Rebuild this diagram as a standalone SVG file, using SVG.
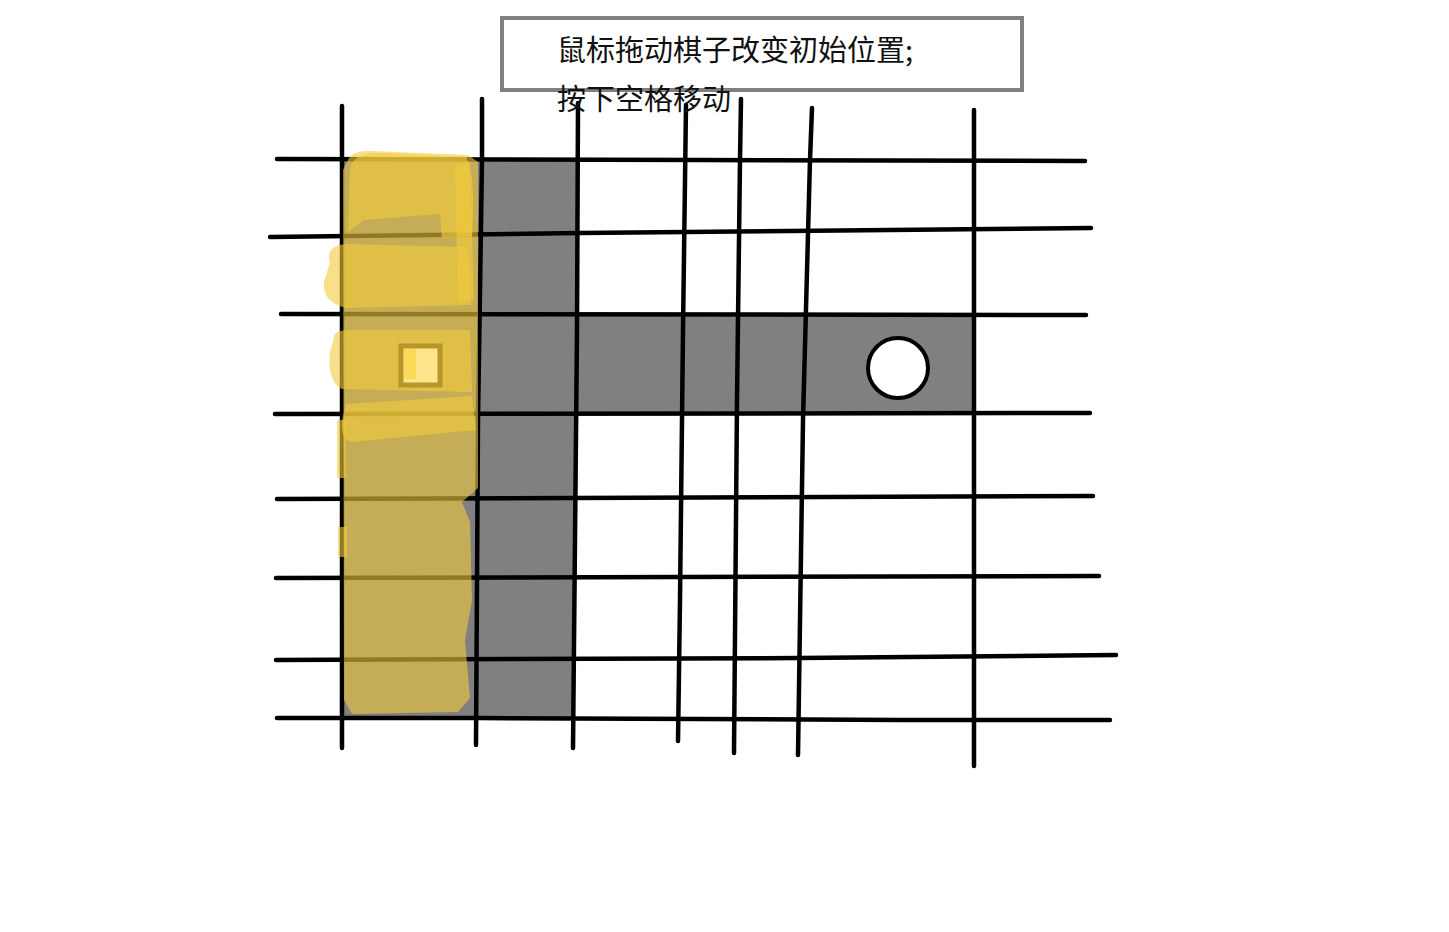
<svg xmlns="http://www.w3.org/2000/svg" width="1449" height="932" viewBox="0 0 1449 932">
<style>
.ln{fill:none;stroke:#000;stroke-width:4.5;stroke-linecap:round;stroke-linejoin:round}
.gray{fill:#808080}
.yl{fill:#f2cc3a;fill-opacity:0.6;stroke:none}
.txt{font-family:"Noto Sans CJK SC","Noto Sans",sans-serif;font-size:29px;fill:#111}
</style>
<rect width="1449" height="932" fill="#fff"/>
<g id="shaded">
<polygon class="gray" points="343,160 578,160 575,414 574,718 343,718"/>
<rect class="gray" x="576" y="315" width="398" height="98"/>
</g>
<g id="grid">
<polyline class="ln" points="277,159 700,160 1085,161"/>
<polyline class="ln" points="270,237 580,233 1091,228"/>
<polyline class="ln" points="281,314 1086,315"/>
<polyline class="ln" points="275,414 1090,413"/>
<polyline class="ln" points="277,499 1093,496"/>
<polyline class="ln" points="276,578 1099,576"/>
<polyline class="ln" points="276,660 800,658 1116,655"/>
<polyline class="ln" points="277,718 480,718 900,720 1110,720"/>
<polyline class="ln" points="342,106 342,748"/>
<polyline class="ln" points="482,99 482,160 478,420 476,745"/>
<polyline class="ln" points="578,103 577,330 573,748"/>
<polyline class="ln" points="686,105 683,330 680,600 678,741"/>
<polyline class="ln" points="741,99 740,160 737,400 734,753"/>
<polyline class="ln" points="812,108 810,160 803,420 798,755"/>
<polyline class="ln" points="974,110 974,766"/>
</g>
<g id="highlight">
<path class="yl" d="M348,160 Q352,150 372,151 L468,155 L478,162 L478,488 L462,502 L470,522 L472,600 L465,640 L470,698 L458,712 L352,714 L344,700 L343,170 Z"/>
<path class="yl" d="M350,170 Q352,152 382,153 L466,157 Q476,175 472,236 L442,238 L440,214 L364,220 L348,232 Z"/>
<path class="yl" d="M330,262 Q325,246 346,244 L468,247 L471,305 L346,308 Q322,302 324,282 Z"/>
<path class="yl" d="M334,338 Q333,330 350,330 L470,330 L472,392 L342,389 Q327,382 330,352 Z"/>
<path class="yl" d="M346,404 L472,396 L476,430 L352,442 Q340,440 342,420 Z"/>
<path class="yl" d="M455,165 L470,162 L474,300 L458,302 Z"/>
<rect class="yl" x="337" y="420" width="9" height="58"/>
<rect class="yl" x="338" y="527" width="9" height="30"/>
<rect x="401" y="346" width="39" height="39" fill="#fee58c" stroke="#b8962c" stroke-width="5"/>
<rect x="404" y="349" width="12" height="30" fill="#fcd957"/>
</g>
<g id="piece">
<circle cx="898" cy="368" r="30" fill="#fff" stroke="#000" stroke-width="4"/>
</g>
<g id="note">
<rect x="502" y="18" width="520" height="72" fill="#fff" stroke="#808080" stroke-width="4"/>
<text class="txt" x="557" y="61">鼠标拖动棋子改变初始位置;</text>
<text class="txt" x="557" y="110">按下空格移动</text>
</g>
</svg>
